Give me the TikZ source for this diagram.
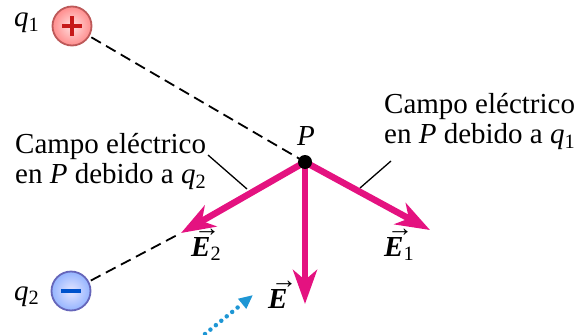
\documentclass[tikz,border=0pt]{standalone}
\usepackage{fontspec}
\setmainfont{Liberation Serif}
\usepackage{amsmath}
\usepackage{xcolor}
\usetikzlibrary{arrows.meta, positioning}

\definecolor{fieldpink}{RGB}{228,18,128}
\definecolor{hintblue}{RGB}{30,150,212}
\newcommand{\qq}[1]{\textit{q}\textsubscript{#1}}
\newcommand{\vE}{\rlap{\kern3pt\raisebox{20pt}{\fontsize{26}{26}\selectfont →}}\textbf{\textit{E}}}

\begin{document}
\begin{tikzpicture}[
    x=1pt, y=-1pt,
    field/.style={line width=6.5pt, draw=fieldpink, -{Stealth[length=34pt, width=24pt, inset=10pt]}},
    charge/.style={circle, minimum size=39pt, inner sep=0pt, line width=1.8pt},
    guide/.style={line width=1.8pt, dash pattern=on 11pt off 6pt},
    leader/.style={line width=1.3pt},
    caption/.style={align=left, inner sep=0pt, font=\fontsize{29}{30}\selectfont},
    tag/.style={inner sep=0pt, font=\fontsize{29}{30}\selectfont}
]
\useasboundingbox (0,0) rectangle (577,334);

% Charges and field point
\node[charge, draw=red!60!black!65, inner color=red!12, outer color=red!45] (q1) at (72,26) {};
\node[charge, draw=blue!55!black!60, inner color=blue!10, outer color=cyan!30!blue!42] (q2) at (71,291) {};
\coordinate (P) at (305,162);
\coordinate (E1tip) at (430,230);
\coordinate (E2tip) at (181,233);
\coordinate (Etip) at (305,304);

% Lines from charges
\draw[guide, shorten <=2pt, shorten >=6pt] (q1) -- (P);
\draw[guide, shorten <=2pt] (q2) -- (E2tip);

% Field vectors
\draw[field] (P) -- (E1tip);
\draw[field] (P) -- (E2tip);
\draw[field] (P) -- (Etip);
\node[circle, fill=black, minimum size=14pt, inner sep=0pt] (Pdot) at (P) {};

% Signs
\draw[red!75!black!90, line width=3.8pt] ([xshift=-10pt]q1.center) -- ([xshift=10pt]q1.center);
\draw[red!75!black!90, line width=3.8pt] ([yshift=-10pt]q1.center) -- ([yshift=10pt]q1.center);
\draw[blue!60!cyan!80!black, line width=3.8pt] ([xshift=-10pt]q2.center) -- ([xshift=10pt]q2.center);

% Labels
\node[tag, anchor=base west] (q1lbl) at (14,27) {\qq{1}};
\node[tag, anchor=base west] (q2lbl) at (14,300) {\qq{2}};
\node[tag, anchor=base] (Plbl) at (306,145) {\textit{P}};
\node[tag, anchor=base west] (E1lbl) at (384,256) {\vE\textsubscript{1}};
\node[tag, anchor=base west] (E2lbl) at (191,256) {\vE\textsubscript{2}};
\node[tag, anchor=base west] (Elbl) at (268,308) {\vE};
\node[caption, anchor=north west] (capL) at (15,133) {Campo eléctrico\\en \textit{P} debido a \qq{2}};
\node[caption, anchor=north west] (capR) at (384,93) {Campo eléctrico\\en \textit{P} debido a \qq{1}};

% Leaders
\coordinate (LfromL) at (208,155);
\coordinate (LtoL) at (247,189);
\coordinate (LfromR) at (391,161);
\coordinate (LtoR) at (360,188);
\draw[leader] (LfromL) -- (LtoL);
\draw[leader] (LfromR) -- (LtoR);

% Hint arrow
\coordinate (hintA) at (205,334);
\coordinate (hintB) at (253,295);
\draw[hintblue, line width=4.5pt, line cap=round, dash pattern=on 0pt off 7pt, -{Triangle[length=14pt, width=12pt]}] (hintA) -- (hintB);
\end{tikzpicture}
\end{document}
